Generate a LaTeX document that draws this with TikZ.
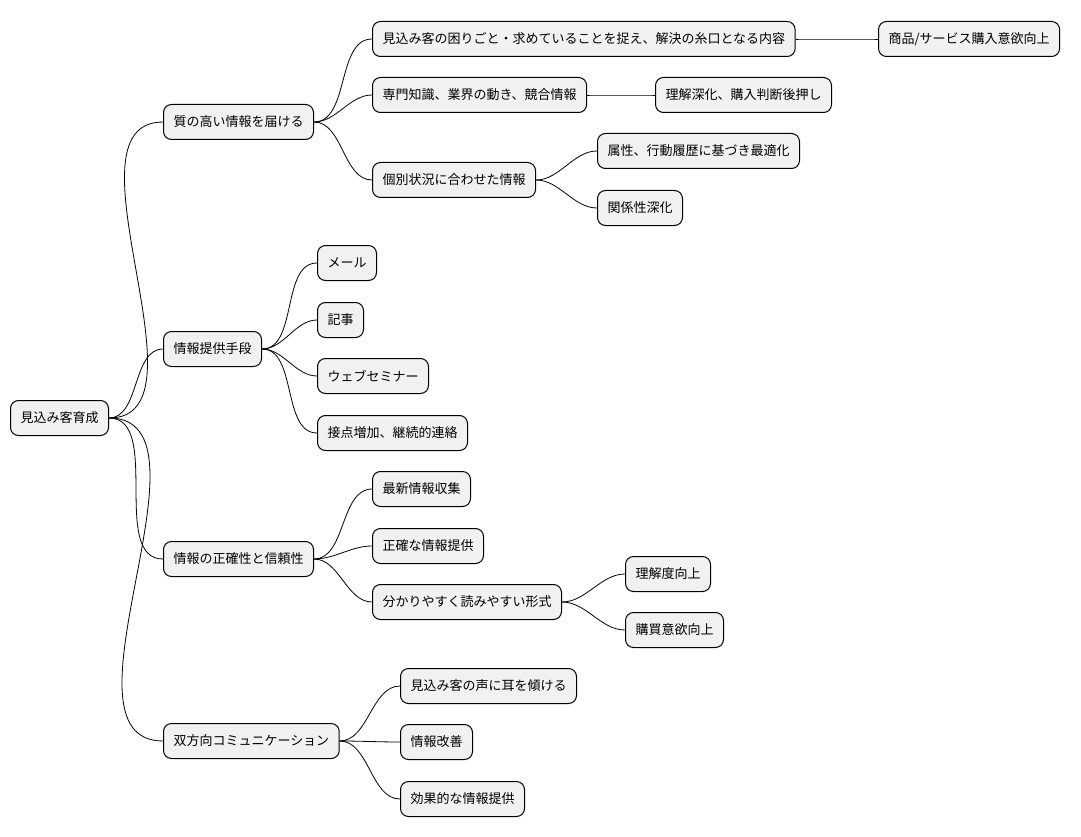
\documentclass[tikz,border=0pt]{standalone}
\usepackage{fontspec}
\setmainfont{Noto Sans CJK JP}
\begin{document}
\begin{tikzpicture}[x=1pt,y=-1pt,
  n/.style={draw=black,line width=1pt,fill={rgb,255:red,241;green,241;blue,241},rounded corners=8pt,anchor=west,minimum height=35pt,inner xsep=10pt,font=\fontsize{13}{15}\selectfont},
  e/.style={line width=0.8pt,out=0,in=180,looseness=0.9}]
\useasboundingbox (0,0) rectangle (1081,837);
\node[n] (r) at (10,418) {見込み客育成};
\node[n] (a) at (163,122) {質の高い情報を届ける};
\node[n] (b) at (163,349) {情報提供手段};
\node[n] (c) at (163,559) {情報の正確性と信頼性};
\node[n] (d) at (163,741) {双方向コミュニケーション};
\node[n] (a1) at (372,39) {見込み客の困りごと・求めていることを捉え、解決の糸口となる内容};
\node[n] (a2) at (372,95) {専門知識、業界の動き、競合情報};
\node[n] (a3) at (372,180) {個別状況に合わせた情報};
\node[n] (a11) at (878,39) {商品/サービス購入意欲向上};
\node[n] (a21) at (655,95) {理解深化、購入判断後押し};
\node[n] (a31) at (597,151) {属性、行動履歴に基づき最適化};
\node[n] (a32) at (597,208) {関係性深化};
\node[n] (b1) at (317,263) {メール};
\node[n] (b2) at (317,320) {記事};
\node[n] (b3) at (317,376) {ウェブセミナー};
\node[n] (b4) at (317,433) {接点増加、継続的連絡};
\node[n] (c1) at (372,489) {最新情報収集};
\node[n] (c2) at (372,546) {正確な情報提供};
\node[n] (c3) at (372,602) {分かりやすく読みやすい形式};
\node[n] (c31) at (625,574) {理解度向上};
\node[n] (c32) at (625,630) {購買意欲向上};
\node[n] (d1) at (400,686) {見込み客の声に耳を傾ける};
\node[n] (d2) at (400,742) {情報改善};
\node[n] (d3) at (400,799) {効果的な情報提供};
\foreach \p/\c in {r/a,r/b,r/c,r/d,a/a1,a/a2,a/a3,a1/a11,a2/a21,a3/a31,a3/a32,b/b1,b/b2,b/b3,b/b4,c/c1,c/c2,c/c3,c3/c31,c3/c32,d/d1,d/d2,d/d3}
  \draw[e] (\p.east) to (\c.west);
\end{tikzpicture}
\end{document}
